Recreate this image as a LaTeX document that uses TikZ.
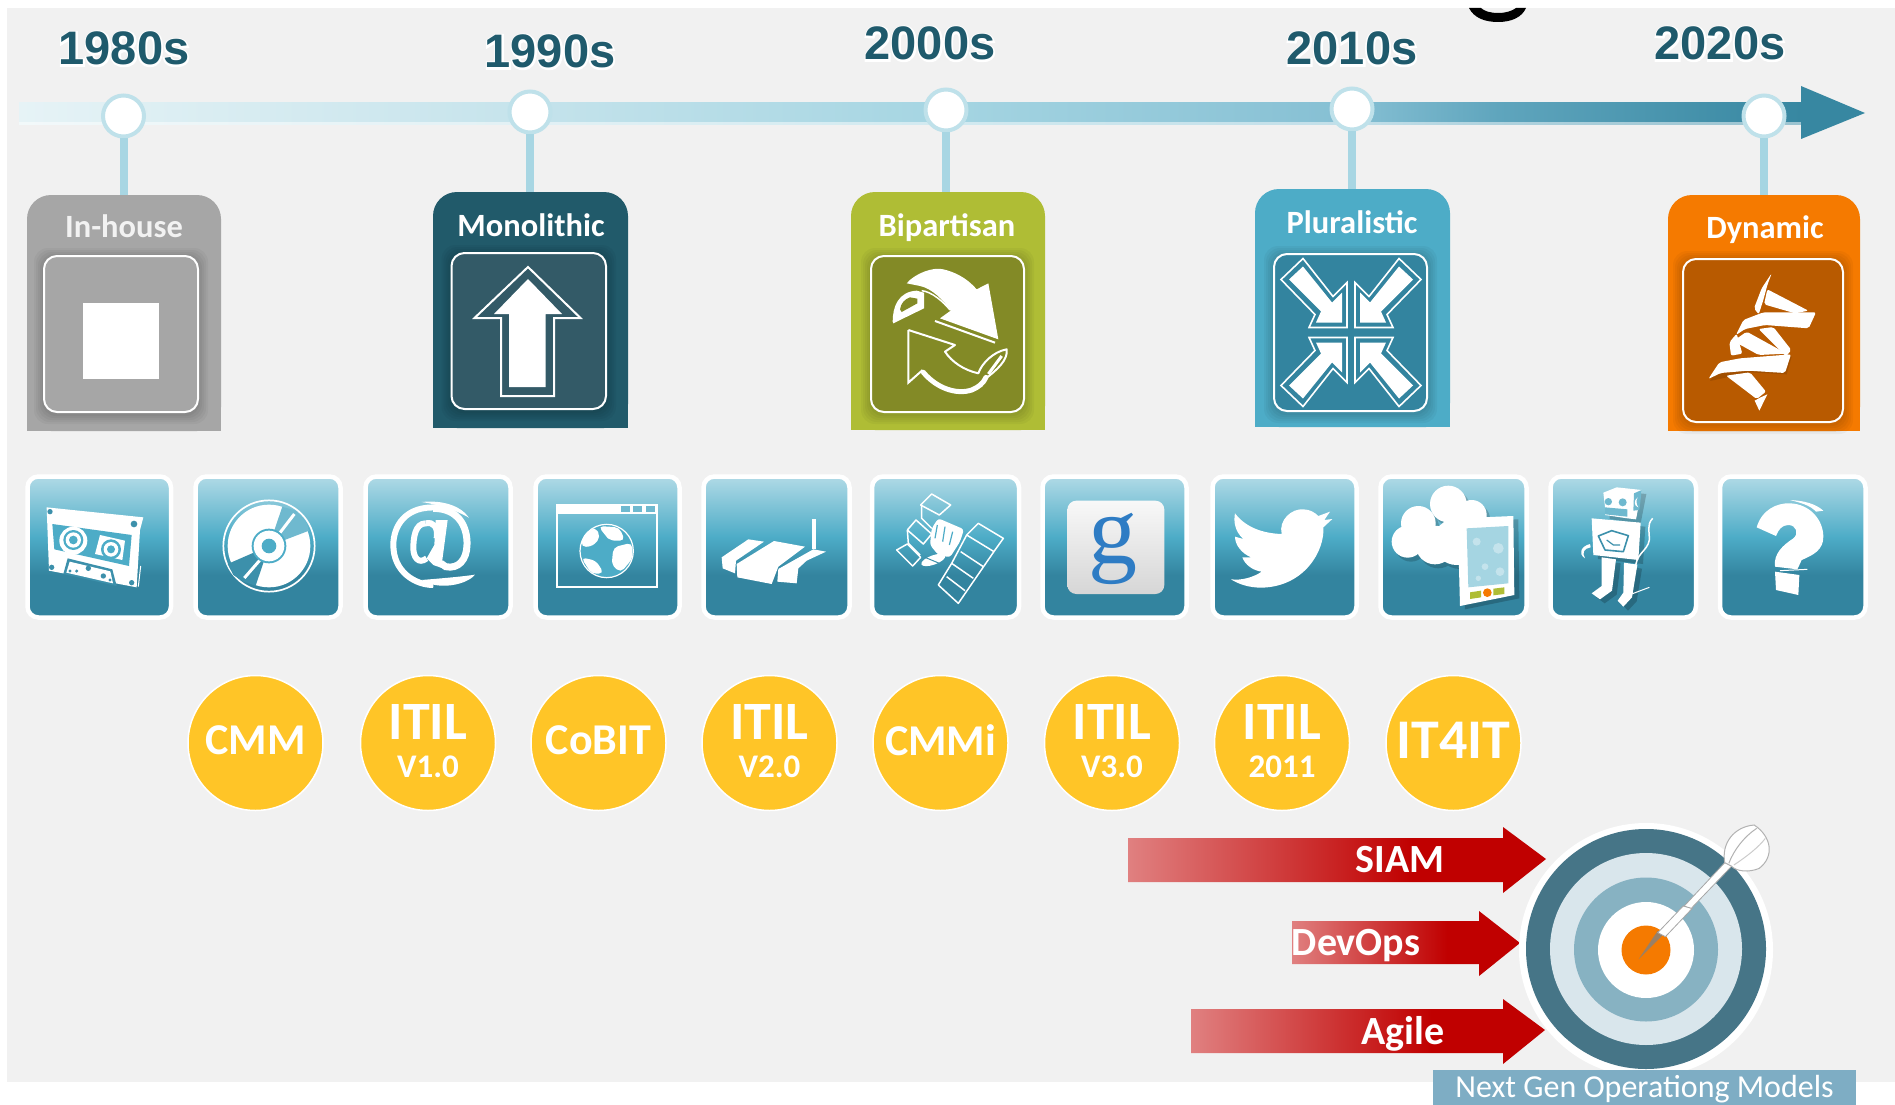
\documentclass[tikz,border=0pt]{standalone}
\usepackage{fontspec}
\setmainfont{Carlito}
\newfontfamily\yearfont{Liberation Sans}
\newfontfamily\gfont{Liberation Serif}
\usetikzlibrary{calc}
\definecolor{pagegray}{HTML}{F1F1F1}
\definecolor{barA}{HTML}{E6F3F6}
\definecolor{barB}{HTML}{C7E4EC}
\definecolor{barC}{HTML}{A5D5E2}
\definecolor{barD}{HTML}{85BFD3}
\definecolor{barE}{HTML}{5FA5BD}
\definecolor{barF}{HTML}{3787A1}
\definecolor{stemblue}{HTML}{A8D6E3}
\definecolor{dotring}{HTML}{BFE1EA}
\definecolor{yeartone}{HTML}{1F5A6C}
\definecolor{tealT}{HTML}{B0DAE6}
\definecolor{tealA}{HTML}{4DACC7}
\definecolor{tealB}{HTML}{3C90AB}
\definecolor{tealC}{HTML}{33849F}
\definecolor{tealL}{HTML}{6FB9CF}
\definecolor{coin}{HTML}{FFC527}
\definecolor{redL}{HTML}{E08080}
\definecolor{redS}{HTML}{C00000}
\definecolor{ringA}{HTML}{467587}
\definecolor{ringB}{HTML}{D9E6EC}
\definecolor{ringC}{HTML}{87B2C2}
\definecolor{orangeC}{HTML}{F57A00}
\definecolor{labelblue}{HTML}{7EADC4}
\definecolor{gblue}{HTML}{2E7CC4}
\definecolor{cardgray}{HTML}{A6A6A6}
\definecolor{cardnavy}{HTML}{215A6A}
\definecolor{innernavy}{HTML}{335A67}
\definecolor{cardolive}{HTML}{AFBD35}
\definecolor{innerolive}{HTML}{838A26}
\definecolor{cardblue}{HTML}{4DACC7}
\definecolor{innerblue}{HTML}{33849F}
\definecolor{cardorange}{HTML}{F57A00}
\definecolor{innerorange}{HTML}{B85A00}
\pgfdeclarehorizontalshading{barsh}{100bp}{color(0bp)=(barA); color(25bp)=(barA); color(38.5bp)=(barB); color(51bp)=(barC); color(62.5bp)=(barD); color(66.5bp)=(barE); color(75bp)=(barF); color(100bp)=(barF)}
\pgfdeclareverticalshading{tilesh}{100bp}{color(0bp)=(tealC); color(25bp)=(tealC); color(40bp)=(tealC); color(53.5bp)=(tealA); color(75bp)=(tealT); color(100bp)=(tealT)}
\pgfdeclarehorizontalshading{redsh}{100bp}{color(0bp)=(redL); color(25bp)=(redL); color(59bp)=(redS); color(75bp)=(redS); color(100bp)=(redS)}
\definecolor{gtileT}{HTML}{F8F8F8}
\definecolor{gtileB}{HTML}{D6D6D6}
\newcommand{\fsz}[1]{\fontsize{#1}{#1}\selectfont}
\newcommand{\glowtext}[1]{\leavevmode\rlap{\color{white}\special{pdf:code 2 Tr 3.5 w}#1\special{pdf:code 0 Tr 0.4 w}}#1}
\newcommand{\twol}[2]{\raisebox{4pt}{\vbox{\baselineskip=38pt \lineskiplimit=-100pt \lineskip=0pt \halign{\hfil##\hfil\cr\fsz{54}#1\cr\fsz{33}#2\cr}}}}
\newcommand{\onel}[2]{\raisebox{6pt}{\fsz{#1}#2}}
\tikzset{
 x=1pt,y=-1pt,
 zoomed/.style 2 args={shift={(#1,#2)},x=0.33333pt,y=-0.33333pt},
 yearlabel/.style={anchor=base,inner sep=0pt,text=yeartone,font=\yearfont\bfseries\fsz{47}},
 dot/.style={circle,draw=dotring,line width=4pt,fill=white,minimum size=41pt,inner sep=0pt},
 stem/.style={draw=stemblue,line width=8pt},
 cardtitle/.style={anchor=base,inner sep=0pt,font=\bfseries\fsz{32.5}},
 coinnode/.style={circle,fill=coin,draw=white,line width=1.5pt,minimum size=135pt,inner sep=0pt,text=white,font=\bfseries},
 tilenode/.style={rectangle,shading=tilesh,draw=white,line width=4.5pt,rounded corners=11pt,inner sep=0pt},
 arrowlabel/.style={text=white,inner sep=0pt,font=\bfseries\fsz{40}},
}
% name x1 y1 x2 y2 colour
\newcommand{\cardshape}[6]{%
 \node[rectangle,fill=#6,rounded corners=24pt,inner sep=0pt,minimum width={(#4-#2)*1pt},minimum height={(#5-#3)*1pt}] (#1) at ({(#2+#4)/2},{(#3+#5)/2}) {};
 \fill[#6] (#1.south west) rectangle (#1.east);
}
\newcommand{\innerbox}[6]{%
 \foreach \i in {10,8,...,2}{\fill[black,opacity=.035,rounded corners=14pt] ({#2-\i},{#3-\i+2}) rectangle ({#4+\i},{#5+\i+2});}
 \node[rectangle,fill=#6,draw=white,line width=2pt,rounded corners=13pt,inner sep=0pt,minimum width={(#4-#2)*1pt},minimum height={(#5-#3)*1pt}] (#1) at ({(#2+#4)/2},{(#3+#5)/2}) {};
}
\newcommand{\tile}[3]{\node[tilenode,minimum width={(#3-#2+5)*1pt},minimum height=141pt] (#1) at ({(#2+#3)/2},547) {};}
\newcommand{\robotbody}{%
  \fill (190,68) -- (230,52) -- (305,60) -- (288,148) -- (262,145) -- (195,135) -- (195,110) -- cycle;
  \fill (155,145) -- (302,158) -- (295,270) -- (160,255) -- cycle;
  \fill (185,262) -- (228,268) -- (216,362) -- (180,388) -- (155,370) -- (185,348) -- cycle;
  \fill (252,278) -- (292,284) -- (276,382) -- (250,410) -- (233,392) -- (250,368) -- cycle;
}
\newcommand{\cloudbody}{%
  \fill (1240,102) circle[radius=55];
  \fill (1150,160) circle[radius=52];
  \fill (1118,215) circle[radius=48];
  \fill (1200,225) circle[radius=58];
  \fill (1310,135) circle[radius=45];
  \fill (1265,215) circle[radius=70];
}
\begin{document}
\begin{tikzpicture}
\useasboundingbox (0,0) rectangle (1895,1105);
\fill[white] (0,0) rectangle (1895,1105);
\fill[pagegray] (7,8) rectangle (1895,1082);
% fragment of a cut-off letter at the top
\fill[black] (1469,8) .. controls (1474,18) and (1485,22) .. (1498,22) .. controls (1512,22) and (1522,17) .. (1526,8) -- (1516,8) .. controls (1512,11) and (1506,13) .. (1498,13) .. controls (1490,13) and (1484,11) .. (1481,8) -- cycle;
% timeline bar
\path[shading=barsh] (19,103) rectangle (1801,125);
\fill[white,opacity=.5] (19,122) rectangle (1801,125);
\fill[barF] (1801,86) -- (1865,113) -- (1801,139) -- cycle;
% year labels
\node[yearlabel] (y1) at (124,65) {\glowtext{1980s}};
\node[yearlabel] (y2) at (550,68) {\glowtext{1990s}};
\node[yearlabel] (y3) at (930,60) {\glowtext{2000s}};
\node[yearlabel] (y4) at (1352,65) {\glowtext{2010s}};
\node[yearlabel] (y5) at (1720,60) {\glowtext{2020s}};
% timeline dots
\node[dot] (d1) at (123.5,116) {};
\node[dot] (d2) at (530,112) {};
\node[dot] (d3) at (946,110) {};
\node[dot] (d4) at (1352,109) {};
\node[dot] (d5) at (1764,116) {};
% cards
\cardshape{c1}{27}{195}{221}{431}{cardgray}
\cardshape{c2}{433}{192}{628}{428}{cardnavy}
\cardshape{c3}{851}{192}{1045}{430}{cardolive}
\cardshape{c4}{1255}{189}{1450}{427}{cardblue}
\cardshape{c5}{1668}{195}{1860}{431}{cardorange}
\draw[stem] (d1) -- (d1 |- c1.north);
\draw[stem] (d2) -- (d2 |- c2.north);
\draw[stem] (d3) -- (d3 |- c3.north);
\draw[stem] (d4) -- (d4 |- c4.north);
\draw[stem,draw=barC] (d5) -- (d5 |- c5.north);
\node[cardtitle,text=white!95!black] (t1) at (124,237) {In-house};
\node[cardtitle,text=white] (t2) at (531,236) {Monolithic};
\node[cardtitle,text=white] (t3) at (947,236) {Bipartisan};
\node[cardtitle,text=white] (t4) at (1352,233) {Pluralistic};
\node[cardtitle,text=white] (t5) at (1765,238) {Dynamic};
\innerbox{b1}{44}{256}{198}{412}{cardgray}
\innerbox{b2}{451.5}{253}{606}{409}{innernavy}
\innerbox{b3}{871}{256}{1024}{412}{innerolive}
\innerbox{b4}{1274}{254}{1427}{411}{innerblue}
\innerbox{b5}{1683}{259}{1843}{422}{innerorange}
% in-house icon
\fill[white] (83,303) rectangle (159,379);
% monolithic icon
\draw[white,line width=2pt,line join=miter] (528,267) -- (580.5,318) -- (554,318) -- (554,396) -- (501,396) -- (501,318) -- (474.5,318) -- cycle;
\fill[white] (528,279) -- (562,314) -- (545.5,314) -- (545.5,387) -- (509,387) -- (509,314) -- (494,314) -- cycle;
% bipartisan icon
\begin{scope}[zoomed={860}{250}]
 \fill[white] (140,100) .. controls (165,70) and (220,50) .. (250,58) .. controls (300,70) and (330,95) .. (350,118) -- (385,100) -- (415,268) -- (240,205) -- (272,182) .. controls (250,150) and (215,115) .. (180,108) -- cycle;
 \draw[white,line width=2pt] (225,213) -- (405,278);
 \fill[white] (98,215) .. controls (98,170) and (115,125) .. (170,122) -- (192,128) -- (192,175) -- (110,215) -- (100,220) -- cycle;
 \fill[innerolive] (120,178) .. controls (123,160) and (133,148) .. (150,142) -- (172,146) -- (172,160) -- (125,186) -- cycle;
 \draw[white,line width=1.5pt] (185,122) .. controls (215,125) and (250,155) .. (270,180);
 \draw[white,line width=2pt,line join=round] (145,240) -- (285,285) -- (255,305) .. controls (275,335) and (310,360) .. (355,370) .. controls (365,340) and (400,305) .. (440,298) .. controls (445,330) and (410,360) .. (378,385);
 \draw[white,line width=5pt,line cap=round] (190,367) .. controls (230,415) and (290,435) .. (335,420) .. controls (355,412) and (370,400) .. (378,382);
 \draw[white,line width=2pt] (145,240) -- (145,398) -- (188,360);
 \draw[white,line width=3pt] (385,372) -- (425,318);
\end{scope}
% pluralistic icon
\foreach \sx/\sy in {1/1,-1/1,1/-1,-1/-1}{
 \begin{scope}[shift={(1351,332.5)},xscale=\sx,yscale=\sy]
  \draw[white,line width=1.6pt,line join=miter] (-48,-74) -- (-18,-36) -- (-4,-50) -- (-4,-5) -- (-42,-5) -- (-36,-18) -- (-70,-53) -- cycle;
  \fill[white] (-48,-66) -- (-19,-30) -- (-9,-40) -- (-9,-10) -- (-35,-10) -- (-30,-21) -- (-62,-53) -- cycle;
 \end{scope}
}
% dynamic icon
\begin{scope}[zoomed={1680}{255}]
 \fill[black,opacity=.12] (90,378) -- (125,325) -- (185,312) -- (335,305) -- (320,358) -- (210,352) -- cycle;
 \fill[white,rounded corners=2pt] (275,55) -- (245,100) -- (222,160) -- (236,178) -- (250,135) -- (262,90) -- cycle;
 \fill[white,rounded corners=2pt] (262,103) -- (385,167) -- (345,175) -- (252,148) -- cycle;
 \fill[white,rounded corners=2pt] (168,240) -- (190,195) -- (250,172) -- (408,172) -- (386,220) -- (255,210) -- (195,222) -- cycle;
 \fill[white,rounded corners=2pt] (160,258) -- (200,230) -- (320,296) -- (236,300) -- cycle;
 \fill[white,rounded corners=2pt] (236,222) -- (280,216) -- (334,285) -- (318,304) -- cycle;
 \fill[white,rounded corners=2pt] (148,262) -- (170,236) -- (187,296) -- (153,302) -- cycle;
 \fill[white,rounded corners=2pt] (85,372) -- (118,322) -- (180,310) -- (333,298) -- (315,354) -- (205,347) -- (122,354) -- cycle;
 \fill[white,rounded corners=2pt] (138,362) -- (210,352) -- (258,410) -- (230,432) -- cycle;
 \fill[white] (224,437) -- (240,428) -- (262,418) -- (238,467) -- cycle;
\end{scope}
% tiles
\tile{k1}{30}{168.5}
\tile{k2}{198}{338}
\tile{k3}{368}{508}
\tile{k4}{538}{677}
\tile{k5}{706}{847}
\tile{k6}{874.5}{1016.5}
\tile{k7}{1045}{1184}
\tile{k8}{1215}{1354}
\tile{k9}{1383}{1524}
\tile{k10}{1553}{1693.5}
\tile{k11}{1722.5}{1863}
% cassette, disc, at-sign
\begin{scope}[zoomed={25}{470}]
 \fill[white] (65,112) -- (355,142) -- (345,180) -- (335,352) -- (72,302) -- cycle;
 \fill[tealA] (82,162) -- (320,195) -- (312,288) -- (88,238) -- cycle;
 \fill[white] (145,212) circle[radius=42];
 \fill[white] (225,195) -- (300,212) -- (292,270) -- (210,252) -- cycle;
 \fill[tealA] (145,210) circle[radius=30];
 \fill[white] (145,210) circle[radius=23];
 \fill[tealA] (145,210) circle[radius=13];
 \fill[tealA] (258,238) circle[radius=30];
 \fill[white] (258,238) circle[radius=22];
 \fill[tealA] (258,238) circle[radius=12];
 \fill[tealB] (128,265) -- (262,298) -- (275,348) -- (115,312) -- cycle;
 \fill[white] (134,275) -- (256,304) -- (264,340) -- (124,308) -- cycle;
 \foreach \hx/\hy/\hr in {135/303/5,155/303/5,190/295/8,235/318/8,255/330/5,75/125/8,327/162/10,80/292/8,320/338/8}{\fill[tealB] (\hx,\hy) circle[radius=\hr];}
 \draw[white,line width=1pt] (347,288) -- (340,350);
 % disc
 \draw[white,line width=1.7pt] (732,228) circle[radius=137];
 \fill[white] (732,228) circle[radius=124];
 \fill[tealL] (732,228) -- (772,110) -- (812,122) -- (845,160) -- (852,182) -- cycle;
 \fill[tealB] (732,228) -- (608,282) -- (625,315) -- (655,335) -- (692,347) -- cycle;
 \draw[white,line width=3pt] (765,188) -- (808,132);
 \draw[white,line width=3pt] (658,324) -- (705,270);
 \fill[tealA] (732,228) circle[radius=52];
 \fill[white] (732,228) circle[radius=46];
 \fill[tealA] (732,228) circle[radius=22];
 % at-sign
 \draw[white,line width=6pt] (1240,113) .. controls (1140,105) and (1105,170) .. (1105,225) .. controls (1105,305) and (1170,345) .. (1225,345);
 \draw[white,line width=7pt] (1225,115) .. controls (1300,115) and (1328,170) .. (1326,225) .. controls (1325,270) and (1300,298) .. (1262,290) -- (1248,280);
 \draw[white,line width=6pt] (1202,160) .. controls (1170,160) and (1165,205) .. (1165,235) .. controls (1165,260) and (1180,285) .. (1205,265);
 \draw[white,line width=6pt] (1202,160) .. controls (1225,155) and (1240,170) .. (1235,205);
 \fill[white] (1232,150) -- (1268,150) -- (1252,270) -- (1262,298) -- (1225,285) -- (1205,265) -- (1228,225) -- cycle;
 \fill[white] (1190,96) .. controls (1250,90) and (1305,105) .. (1332,143) .. controls (1300,125) and (1250,105) .. (1190,96) -- cycle;
 \fill[white] (1190,330) .. controls (1250,325) and (1310,320) .. (1350,314) .. controls (1325,345) and (1240,362) .. (1190,330) -- cycle;
\end{scope}
% browser, router, satellite
\begin{scope}[zoomed={530}{470}]
 \draw[white,line width=1.7pt] (80,105) rectangle (382,352);
 \fill[white] (80,105) rectangle (382,132);
 \foreach \bx in {272,310,348}{\fill[tealL] (\bx,109) rectangle ({\bx+27},126);}
 \fill[tealA] (230,243) circle[radius=80];
 \draw[white,line width=1.2pt] (230,243) circle[radius=80];
 \fill[white,rounded corners=5pt] (153,232) -- (160,195) -- (195,170) -- (212,200) -- (190,228) -- cycle;
 \fill[white,rounded corners=5pt] (205,168) -- (268,172) -- (285,212) -- (240,212) -- (225,195) -- cycle;
 \fill[white,rounded corners=5pt] (250,232) -- (306,218) -- (308,265) -- (272,308) -- (245,285) -- cycle;
 \fill[white,rounded corners=5pt] (153,262) -- (198,272) -- (222,310) -- (185,312) -- cycle;
 % router
 \fill[white] (575,262) -- (655,208) -- (702,215) -- (618,272) -- (615,310) -- (578,295) -- cycle;
 \fill[white] (620,282) -- (732,213) -- (825,230) -- (745,290) -- (725,342) -- (622,322) -- cycle;
 \fill[white] (745,297) -- (825,252) -- (850,238) -- (888,245) -- (830,272) -- (805,295) -- (800,340) -- (742,335) -- cycle;
 \fill[white] (845,148) rectangle (858,236);
 % satellite
 \begin{scope}[white,line width=1.5pt,line join=round]
 \draw (1205,72) -- (1262,105) -- (1228,135) -- (1172,105) -- cycle;
 \draw (1175,105) -- (1175,145) -- (1205,175);
 \draw (1158,150) -- (1205,192) -- (1180,222) -- (1132,180) -- cycle;
 \draw (1132,180) -- (1135,220) -- (1170,255);
 \draw (1132,222) -- (1172,262) -- (1148,288) -- (1100,240) -- cycle;
 \draw (1345,160) -- (1420,205) -- (1395,240) -- (1285,400) -- (1225,345) -- (1265,280) -- (1310,195) -- cycle;
 \draw (1310,195) -- (1392,245);
 \draw (1292,245) -- (1360,290);
 \draw (1265,280) -- (1330,325);
 \draw (1250,320) -- (1305,362);
 \end{scope}
 \fill[white,rounded corners=3pt] (1205,175) -- (1225,145) -- (1302,178) -- (1290,215) -- (1260,262) -- (1225,255) -- (1200,225) -- cycle;
 \draw[tealA,line width=1.2pt] (1222,165) -- (1215,205) (1245,170) -- (1238,215) (1268,185) -- (1258,225);
 \fill[white] (1210,270) ellipse[x radius=38,y radius=14,rotate=20];
 \draw[tealB,line width=1pt] (1185,262) -- (1240,285);
\end{scope}
% google, bird, cloud and tablet
\begin{scope}[zoomed={1035}{470}]
 \path[top color=gtileT,bottom color=gtileB,rounded corners=9pt] (97,92) rectangle (388,372);
 \node[inner sep=0pt,text=gblue,font=\gfont\fsz{98}] (gl) at (235,237) {g};
 \fill[white] (600,130) .. controls (630,170) and (680,190) .. (740,192) .. controls (730,150) and (770,115) .. (805,118) .. controls (825,118) and (840,128) .. (850,138) -- (885,125) -- (868,150) -- (892,147) -- (865,172) .. controls (870,240) and (810,350) .. (680,353) .. controls (640,353) and (610,342) .. (588,328) .. controls (620,332) and (655,322) .. (680,305) .. controls (655,302) and (630,285) .. (622,262) -- (648,262) .. controls (620,250) and (600,225) .. (600,200) -- (625,207) .. controls (600,185) and (595,155) .. (600,130) -- cycle;
 \begin{scope}[shift={(10,12)},black,opacity=.18,transparency group]\cloudbody\end{scope}
 \begin{scope}[white]\cloudbody\end{scope}
 \fill[black,opacity=.2] (1280,155) -- (1450,148) -- (1453,385) -- (1290,418) -- cycle;
 \fill[white] (1268,145) -- (1435,138) -- (1438,375) -- (1275,408) -- cycle;
 \fill[barC] (1295,175) -- (1420,168) -- (1420,340) -- (1300,352) -- cycle;
 \foreach \bx/\by/\br in {1325/215/12,1390/235/16,1350/290/10,1395/305/13,1330/325/8}{\fill[white,opacity=.35] (\bx,\by) circle[radius=\br];}
 \fill[cardolive] (1305,367) -- (1338,362) -- (1338,382) -- (1305,387) -- cycle;
 \fill[cardolive] (1375,356) -- (1408,352) -- (1408,372) -- (1375,376) -- cycle;
 \fill[orangeC] (1357,368) circle[radius=13];
\end{scope}
% robot, question mark
\begin{scope}[zoomed={1540}{470}]
 \begin{scope}[shift={(14,12)},black,opacity=.2,transparency group]\robotbody\end{scope}
 \begin{scope}[white]\robotbody\end{scope}
 \fill[tealL] (195,112) -- (262,118) -- (262,140) -- (195,133) -- cycle;
 \fill[tealL] (205,95) circle[radius=11];
 \fill[tealL] (248,97) circle[radius=12];
 \fill[tealL] (282,70) -- (305,60) -- (298,120) -- (280,122) -- cycle;
 \fill[white] (293,82) .. controls (280,92) and (282,108) .. (295,112) .. controls (288,102) and (288,92) .. (293,82) -- cycle;
 \draw[tealB,line width=1.6pt,fill=white,line join=round] (175,198) -- (215,182) -- (265,197) -- (250,245) -- (195,240) -- cycle;
 \draw[tealB,line width=1.2pt] (200,210) -- (220,225) -- (240,225);
 \fill[white] (150,222) .. controls (125,228) and (112,250) .. (135,265) .. controls (125,248) and (132,235) .. (152,232) -- cycle;
 \draw[white,line width=1.5pt] (338,145) .. controls (318,165) and (330,190) .. (328,210) .. controls (322,245) and (285,250) .. (287,298);
 \draw[white,line width=1pt] (275,372) -- (328,352);
 \fill[white] (650,172) .. controls (665,120) and (710,98) .. (750,100) .. controls (810,102) and (850,150) .. (850,200) .. controls (850,240) and (820,255) .. (785,270) -- (772,298) -- (705,290) .. controls (700,250) and (730,225) .. (760,205) .. controls (778,190) and (768,165) .. (745,165) .. controls (725,165) and (715,180) .. (708,198) -- cycle;
 \fill[white] (705,305) -- (778,315) -- (775,375) -- (708,360) -- cycle;
 \fill[white] (750,90) .. controls (790,92) and (825,100) .. (850,122) -- (828,125) .. controls (810,105) and (780,98) .. (750,90) -- cycle;
 \draw[white,line width=1pt] (720,302) -- (802,298);
\end{scope}
% standards discs
\node[coinnode] (m1) at (255.5,743) {\onel{44}{CMM}};
\node[coinnode] (m2) at (428,743) {\twol{ITIL}{V1.0}};
\node[coinnode] (m3) at (598.5,743) {\onel{44}{CoBIT}};
\node[coinnode] (m4) at (769.5,743) {\twol{ITIL}{V2.0}};
\node[coinnode] (m5) at (940.5,743) {\onel{44}{CMMi}};
\node[coinnode] (m6) at (1112,743) {\twol{ITIL}{V3.0}};
\node[coinnode] (m7) at (1282,743) {\twol{ITIL}{2011}};
\node[coinnode] (m8) at (1453.5,743) {\onel{56}{IT4IT}};
% red arrows
\path[shading=redsh] (1128,838) -- (1503,838) -- (1503,827) -- (1546,859) -- (1503,893) -- (1503,882) -- (1128,882) -- cycle;
\path[shading=redsh] (1292,921) -- (1479,921) -- (1479,911) -- (1520,943) -- (1479,976) -- (1479,964) -- (1292,964) -- cycle;
\path[shading=redsh] (1191,1009) -- (1503,1009) -- (1503,999) -- (1545,1030) -- (1503,1064) -- (1503,1053) -- (1191,1053) -- cycle;
\node[arrowlabel] (ar1) at (1400,860) {SIAM};
\node[arrowlabel] (ar2) at (1356,946) {DevOps};
\node[arrowlabel] (ar3) at (1403,1034) {Agile};
% target
\fill[white] (1646,950) circle[radius=127];
\fill[ringA] (1646,949) circle[radius=120];
\fill[ringB] (1646,949) circle[radius=96];
\fill[ringC] (1646,949.5) circle[radius=72];
\fill[white] (1646,950) circle[radius=48];
\fill[orangeC] (1646,950) circle[radius=24.5];
% dart
\begin{scope}[shift={(1100,800)},x=0.5071pt,y=-0.33333pt]
 \fill[gray!80!orange] (1062,478) -- (1100,392) -- (1112,402) -- cycle;
 \draw[gray!70,line width=.8pt,fill=white] (1100,398) -- (1150,318) -- (1168,325) -- (1115,410) -- cycle;
 \draw[gray!70,line width=.8pt,fill=white] (1152,318) -- (1232,188) -- (1246,198) -- (1166,325) -- cycle;
 \draw[gray!60,line width=1pt,fill=white] (1232,188) .. controls (1225,130) and (1250,80) .. (1290,75) .. controls (1325,110) and (1330,170) .. (1300,205) .. controls (1280,218) and (1255,215) .. (1245,198) -- cycle;
 \draw[gray!60,line width=1pt] (1240,190) .. controls (1250,150) and (1270,110) .. (1295,85);
 \draw[gray!40,line width=1pt] (1250,195) .. controls (1275,170) and (1300,140) .. (1312,115);
\end{scope}
% caption
\node[rectangle,fill=labelblue,text=white,inner sep=0pt,minimum width=423pt,minimum height=35pt,font=\fsz{32}] (cap) at (1644.5,1087.5) {\raisebox{-10pt}[0pt][0pt]{Next Gen Operationg Models}};
\end{tikzpicture}
\end{document}
